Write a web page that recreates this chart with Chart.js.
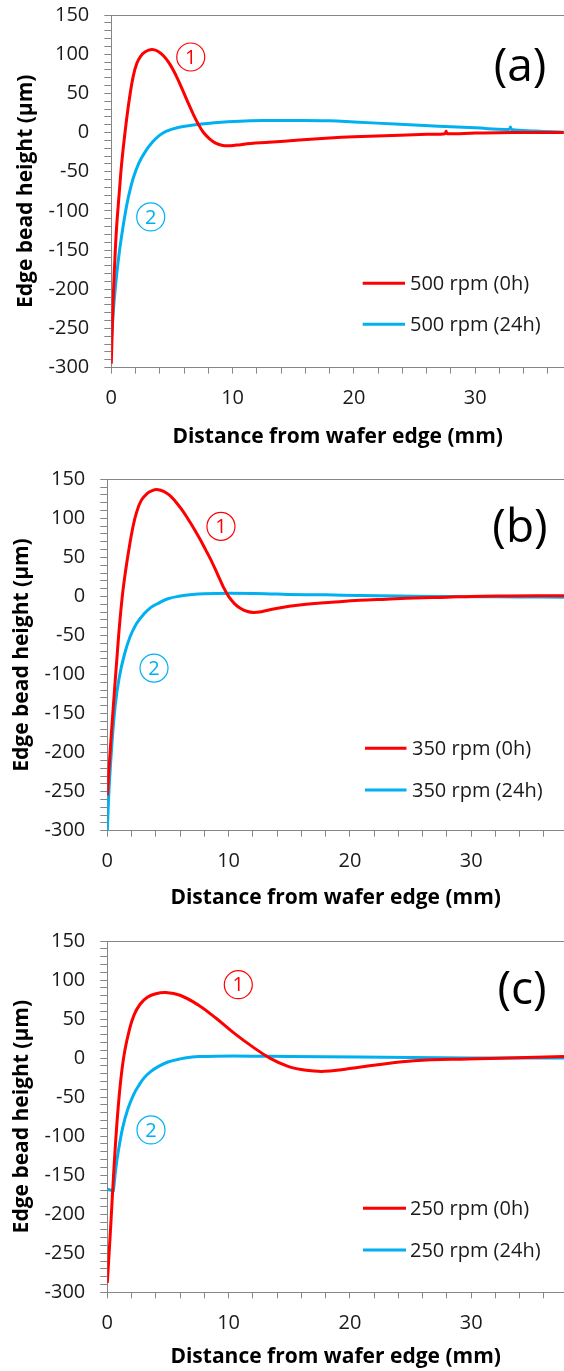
<!DOCTYPE html>
<html>
<head>
<meta charset="utf-8">
<script src="https://cdn.jsdelivr.net/npm/chart.js@4/dist/chart.umd.min.js"></script>
<style>
html,body{margin:0;padding:0;background:#fff;}
body{width:564px;height:1371px;position:relative;overflow:hidden;}
.panel{position:absolute;left:0;width:564px;}
canvas{display:block;}
</style>
</head>
<body>
<div class="panel" style="top:0px;height:460px"><canvas id="ca" width="564" height="460"></canvas></div>
<div class="panel" style="top:460px;height:460px"><canvas id="cb" width="564" height="460"></canvas></div>
<div class="panel" style="top:920px;height:451px"><canvas id="cc" width="564" height="451"></canvas></div>
<script>
// ---------- DATA ----------
const xTitle = 'Distance from wafer edge (mm)';
const yTitle = 'Edge bead height (μm)';
const xLabelValues = [0, 10, 20, 30];
const yLabelValues = [-300, -250, -200, -150, -100, -50, 0, 50, 100, 150];

// Panel (a) 500 rpm
const aLabels = ['500 rpm (0h)', '500 rpm (24h)'];
const aRedX = [0, 0.15, 0.3, 0.44, 0.65, 0.85, 1.13, 1.49, 1.81, 2.1, 2.4, 2.8, 3.33, 3.8, 4.3, 4.8, 5.3, 5.8, 6.3, 6.8, 7.2, 7.6, 8.1, 8.6, 9.1, 9.6, 10.3, 11.5, 13, 15.5, 18, 20, 23.8, 26, 27.5, 27.6, 27.7, 30, 33, 37.3];
const aRedY = [-295, -215, -160, -120, -78, -40, 0, 43, 72, 88, 97, 103, 106, 104, 98, 88, 74, 57, 39, 22, 10, 0, -8, -13.5, -16.2, -17, -16, -14, -12.5, -9.5, -7, -5.5, -3.4, -2.2, -1.5, 1.5, -1.5, -0.7, 0, 0];
const aBlueX = [0, 0.1, 0.25, 0.45, 0.7, 0.9, 1.13, 1.4, 1.81, 2.3, 2.9, 3.4, 3.9, 4.5, 5.5, 6.5, 7.3, 8.5, 10.6, 13, 15.5, 18, 20, 23.8, 27, 30, 32.8, 32.9, 33.0, 35, 37.3];
const aBlueY = [-268, -243, -212, -180, -148, -127, -105, -83, -58, -38, -22, -12, -4.5, 1.5, 6.5, 9, 10.5, 12.5, 14.5, 15.3, 15.5, 15, 13.5, 10.5, 8, 6, 4, 7, 4, 2, 0.5];

// Panel (b) 350 rpm
const bLabels = ['350 rpm (0h)', '350 rpm (24h)'];
const bRedX = [0, 0.25, 0.5, 0.75, 1.0, 1.25, 1.5, 1.8, 2.1, 2.4, 2.8, 3.3, 3.7, 4.07, 4.6, 5.1, 5.6, 6.1, 6.6, 7.1, 7.6, 8.1, 8.6, 9.1, 9.57, 10.0, 10.5, 11.0, 11.5, 12.04, 12.7, 13.7, 15, 16.4, 18.5, 20.8, 23, 25.3, 28, 30, 33, 37.65];
const bRedY = [-255, -195, -140, -88, -38, 2, 32, 62, 88, 107, 123, 132, 135.5, 137, 135, 130, 122, 112, 100.5, 88, 74.5, 60, 45, 28, 12, 0, -9.5, -15.5, -19, -20.5, -19.5, -16, -12.5, -10, -7.5, -5, -3.5, -2, -1, 0, 0.5, 1];
const bBlueX = [0, 0.15, 0.38, 0.65, 0.98, 1.4, 1.87, 2.4, 3.05, 3.6, 4.23, 5, 6, 7, 8, 10, 13, 14.9, 18, 20.8, 24, 26.7, 30, 34, 37.65];
const bBlueY = [-300, -245, -189, -140, -104, -75, -52, -35, -22, -14, -8.5, -3, 0.5, 2.5, 3.5, 4, 3.5, 2.6, 2, 1.3, 0.6, 0, -0.3, -0.7, -1];

// Panel (c) 250 rpm
const cLabels = ['250 rpm (0h)', '250 rpm (24h)'];
const cRedX = [0, 0.15, 0.3, 0.45, 0.6, 0.8, 1.0, 1.2, 1.45, 1.8, 2.2, 2.7, 3.3, 4.0, 4.83, 6.0, 7.5, 8.97, 10.45, 11.93, 13.4, 14.9, 16.4, 17.9, 19.3, 22.3, 25.3, 29.7, 33, 37.65];
const cRedY = [-288, -250, -210, -168, -128, -82, -45, -16, 10, 35, 55, 69, 78, 82.5, 84, 80.5, 68, 51, 32, 15, 0, -10.6, -15.7, -17, -14.8, -8.5, -3.4, -1, 0, 2];
const cBlueX = [0, 0.45, 0.5, 0.68, 0.9, 1.27, 1.7, 2.16, 2.6, 3.05, 3.6, 4.23, 5, 6, 7, 7.8, 9, 11.9, 15, 20.8, 25, 30, 37.65];
const cBlueY = [-168, -169.8, -170, -144, -120, -89, -65, -47, -35, -25, -17, -10.6, -5, -1, 1.5, 2, 2.5, 2.5, 2, 1.3, 0.7, 0.2, 0];

// ---------- STYLE / LAYOUT ----------
const RED = '#ff0000', BLUE = '#00b0f0', AXIS = '#868686', TXT = '#1a1a1a';
const FAMILY = '"Open Sans", "Liberation Sans", sans-serif';
Chart.defaults.font.family = FAMILY;

const layouts = {
  a: {h: 460, plotTop: 15, plotBottom: 367.6, plotLeft: 111.3, xMax: 37.32, yTitlePad: 13.4, xTitlePad: 10.4,
      legend: {x0: 201.3, x1: 159, tx: 154, dy: [84.3, 43.3]}, tag: '(a)', tagDx: 44, tagDy: 52.5,
      marks: [{x: 6.55, y: 96.4, t: '1', c: RED}, {x: 3.25, y: -107.7, t: '2', c: BLUE}]},
  b: {h: 460, plotTop: 19.3, plotBottom: 370.7, plotLeft: 107.3, xMax: 37.65, yTitlePad: 9.9, xTitlePad: 9.4,
      legend: {x0: 199, x1: 157.5, tx: 152, dy: [82.4, 40.7]}, tag: '(b)', tagDx: 44, tagDy: 50,
      marks: [{x: 9.37, y: 89.7, t: '1', c: RED}, {x: 3.85, y: -91.8, t: '2', c: BLUE}]},
  c: {h: 451, plotTop: 21, plotBottom: 372.3, plotLeft: 107.3, xMax: 37.65, yTitlePad: 9.9, xTitlePad: 1.4,
      legend: {x0: 201, x1: 158, tx: 154, dy: [84, 42.3]}, tag: '(c)', tagDx: 42, tagDy: 50,
      marks: [{x: 10.8, y: 94, t: '1', c: RED}, {x: 3.6, y: -92, t: '2', c: BLUE}]}
};

const decoPlugin = {
  id: 'deco',
  afterDatasetsDraw(chart, args, opts) {
    const L = opts.layout;
    const {ctx, chartArea: ca} = chart;
    const xs = chart.scales.x, ys = chart.scales.y;
    ctx.save();
    ctx.fillStyle = '#000';
    ctx.textAlign = 'center';
    ctx.textBaseline = 'middle';
    ctx.font = '46px ' + FAMILY;
    ctx.fillText(L.tag, ca.right - L.tagDx, ca.top + L.tagDy);
    L.marks.forEach(m => {
      const px = xs.getPixelForValue(m.x), py = ys.getPixelForValue(m.y);
      ctx.beginPath();
      ctx.arc(px, py, 14, 0, Math.PI * 2);
      ctx.lineWidth = 1.2;
      ctx.strokeStyle = m.c;
      ctx.stroke();
      ctx.fillStyle = m.c;
      ctx.font = '20px ' + FAMILY;
      ctx.fillText(m.t, px, py + 1);
    });
    chart.data.datasets.forEach((ds, i) => {
      const ly = ca.bottom - L.legend.dy[i];
      ctx.beginPath();
      ctx.moveTo(ca.right - L.legend.x0, ly);
      ctx.lineTo(ca.right - L.legend.x1, ly);
      ctx.lineWidth = 3;
      ctx.strokeStyle = ds.borderColor;
      ctx.stroke();
      ctx.fillStyle = TXT;
      ctx.textAlign = 'left';
      ctx.font = '20px ' + FAMILY;
      ctx.fillText(ds.label, ca.right - L.legend.tx, ly + 1);
    });
    ctx.restore();
  }
};

function pts(xs, ys) { return xs.map((x, i) => ({x: x, y: ys[i]})); }

function makePanel(id, L, labels, rx, ry, bx, by) {
  return new Chart(document.getElementById(id), {
    type: 'line',
    data: {
      datasets: [
        {label: labels[0], data: pts(rx, ry), borderColor: RED, backgroundColor: RED, borderWidth: 3,
         pointRadius: 0, pointHitRadius: 0, tension: 0.4, fill: false},
        {label: labels[1], data: pts(bx, by), borderColor: BLUE, backgroundColor: BLUE, borderWidth: 3,
         pointRadius: 0, pointHitRadius: 0, tension: 0.4, fill: false}
      ]
    },
    options: {
      responsive: false,
      animation: false,
      events: [],
      layout: {autoPadding: false, padding: {top: L.plotTop, right: 0, bottom: 0, left: 0}},
      plugins: {legend: {display: false}, tooltip: {enabled: false}, deco: {layout: L}},
      scales: {
        x: {
          type: 'linear', position: 'bottom', min: 0, max: L.xMax,
          afterFit: s => { s.height = L.h - L.plotBottom; s.paddingLeft = 0; s.paddingRight = 0; },
          border: {display: true, color: AXIS, width: 1},
          grid: {display: true, drawOnChartArea: false, drawTicks: true, tickLength: 6, color: AXIS, lineWidth: 1},
          ticks: {stepSize: 2, autoSkip: false, maxRotation: 0, minRotation: 0, includeBounds: false, maxTicksLimit: 100,
                  padding: 13, color: TXT, font: {size: 20, family: FAMILY},
                  callback: v => xLabelValues.includes(v) ? String(v) : ''},
          title: {display: true, text: xTitle, color: '#000', font: {size: 21, weight: 'bold', family: FAMILY},
                  padding: {top: 0, bottom: L.xTitlePad}}
        },
        x2: {
          type: 'linear', position: 'top', min: 0, max: L.xMax,
          afterFit: s => { s.height = 0; s.paddingLeft = 0; s.paddingRight = 0; },
          border: {display: true, color: AXIS, width: 1},
          grid: {display: false, drawTicks: false},
          ticks: {display: false}
        },
        y: {
          type: 'linear', position: 'left', min: -300, max: 150,
          afterFit: s => { s.width = L.plotLeft; s.paddingTop = 0; s.paddingBottom = 0; },
          border: {display: true, color: AXIS, width: 1},
          grid: {display: true, drawOnChartArea: false, drawTicks: true, tickLength: 7, color: AXIS, lineWidth: 1},
          ticks: {stepSize: 10, autoSkip: false, includeBounds: false, maxTicksLimit: 100,
                  padding: 15, color: TXT, font: {size: 20, family: FAMILY},
                  callback: v => yLabelValues.includes(v) ? String(v) : ''},
          title: {display: true, text: yTitle, color: '#000', font: {size: 21, weight: 'bold', family: FAMILY},
                  padding: {top: L.yTitlePad, bottom: 0}}
        }
      }
    },
    plugins: [decoPlugin]
  });
}

makePanel('ca', layouts.a, aLabels, aRedX, aRedY, aBlueX, aBlueY);
makePanel('cb', layouts.b, bLabels, bRedX, bRedY, bBlueX, bBlueY);
makePanel('cc', layouts.c, cLabels, cRedX, cRedY, cBlueX, cBlueY);
</script>
</body>
</html>
